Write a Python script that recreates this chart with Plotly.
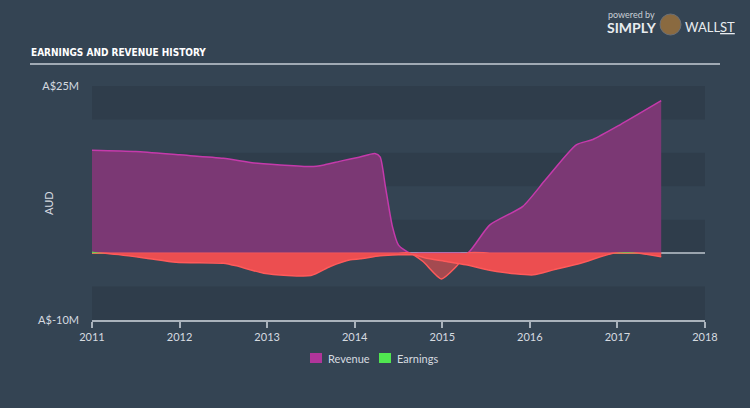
import numpy as np
import plotly.graph_objects as go

# ---- data (A$ millions) ----
rev_x = [2011.0, 2011.5, 2012.0, 2012.5, 2012.85, 2013.15, 2013.5, 2013.65, 2013.85, 2014.05,
         2014.23, 2014.29, 2014.35, 2014.43, 2014.5, 2014.63, 2014.78, 2014.99, 2015.16, 2015.29,
         2015.54, 2015.92, 2016.18, 2016.53, 2016.72, 2017.03, 2017.5]
revenue = [15.4, 15.2, 14.7, 14.2, 13.5, 13.2, 12.95, 13.2, 13.8, 14.35,
           14.9, 14.4, 10.0, 4.0, 1.2, 0.0, -1.25, -3.85, -2.0, 0.0,
           4.2, 7.0, 11.0, 16.2, 17.0, 19.2, 22.8]

earn_x = [2011.0, 2011.15, 2011.62, 2011.96, 2012.5, 2012.65, 2012.96, 2013.5, 2013.72, 2013.95,
          2014.06, 2014.29, 2014.5, 2014.67, 2014.82, 2015.05, 2015.27, 2015.62, 2016.04, 2016.27,
          2016.58, 2016.95, 2017.1, 2017.25, 2017.5]
earnings = [0.25, 0.0, -0.75, -1.35, -1.5, -1.9, -3.0, -3.35, -2.0, -1.0,
            -0.85, -0.4, -0.25, -0.25, -0.75, -1.25, -1.75, -2.75, -3.25, -2.5,
            -1.5, 0.0, 0.12, 0.0, -0.55]

x_ticks = [2011, 2012, 2013, 2014, 2015, 2016, 2017, 2018]
y_ticks = [-10, 25]
y_ticktext = ["A$-10M", "A$25M"]
bands = [(20, 25), (10, 15), (0, 5), (-10, -5)]
legend_names = ["Revenue", "Earnings"]
legend_colors = ["#b0359a", "#50e650"]

BG = "#344453"
BAND = "#2f3d4b"
TXT = "#d6dbe0"

rev = np.array(revenue)
ern = np.array(earnings)

fig = go.Figure()
spl = dict(shape="spline", smoothing=0.6)

# revenue positive part
fig.add_trace(go.Scatter(x=rev_x, y=np.maximum(rev, 0), mode="lines", fill="tozeroy",
                         fillcolor="#7b3874",
                         line=dict(color="#c53aab", width=1.5, **spl), showlegend=False, hoverinfo="skip"))
# revenue negative part
fig.add_trace(go.Scatter(x=rev_x, y=np.minimum(rev, 0), mode="lines", fill="tozeroy",
                         fillcolor="rgba(240,78,78,0.6)",
                         line=dict(color="#ff5a5a", width=1.5, **spl), showlegend=False, hoverinfo="skip"))
# earnings negative part
fig.add_trace(go.Scatter(x=earn_x, y=np.minimum(ern, 0), mode="lines", fill="tozeroy",
                         fillcolor="#ec4e50",
                         line=dict(color="#ff5a5a", width=1.5, **spl), showlegend=False, hoverinfo="skip"))
# earnings positive part
fig.add_trace(go.Scatter(x=earn_x, y=np.maximum(ern, 0), mode="lines", fill="tozeroy",
                         fillcolor="rgba(80,230,80,0.85)",
                         line=dict(color="rgba(80,230,80,0)", width=0, **spl), showlegend=False, hoverinfo="skip"))

def px_x(p):
    return (p - 92) / 613

def px_y(p):
    return (320 - p) / 234

shapes = []
for lo, hi in bands:
    shapes.append(dict(type="rect", xref="paper", yref="y", x0=0, x1=1, y0=lo, y1=hi,
                       fillcolor=BAND, line_width=0, layer="below"))
# title underline
shapes.append(dict(type="line", xref="paper", yref="paper",
                   x0=px_x(30), x1=px_x(720), y0=px_y(64), y1=px_y(64),
                   line=dict(color="#c5cdd5", width=1.5)))
# logo circle
shapes.append(dict(type="circle", xref="paper", yref="paper",
                   x0=px_x(660), x1=px_x(681), y0=px_y(35), y1=px_y(14),
                   fillcolor="#8a6a40", line=dict(color="#6b6f75", width=1)))

annotations = [
    dict(text="<b>EARNINGS AND REVENUE HISTORY</b>", xref="paper", yref="paper",
         x=px_x(29), y=px_y(52.5), xanchor="left", yanchor="middle", showarrow=False,
         font=dict(family="DejaVu Sans Condensed, DejaVu Sans, sans-serif", size=10, color="#ffffff")),
    dict(text="powered by", xref="paper", yref="paper", x=px_x(606), y=px_y(14),
         xanchor="left", yanchor="middle", showarrow=False,
         font=dict(family="Lato, sans-serif", size=9, color="#c8cfd6")),
    dict(text="<b>SIMPLY</b>", xref="paper", yref="paper", x=px_x(605), y=px_y(27),
         xanchor="left", yanchor="middle", showarrow=False,
         font=dict(family="Lato, sans-serif", size=14, color="#e8ecef")),
    dict(text="WALL<u>ST</u>", xref="paper", yref="paper", x=px_x(683), y=px_y(27),
         xanchor="left", yanchor="middle", showarrow=False,
         font=dict(family="Lato, sans-serif", size=13, color="#e8ecef")),
    dict(text="AUD", xref="paper", yref="paper", x=px_x(48), y=0.5, textangle=-90,
         xanchor="center", yanchor="middle", showarrow=False,
         font=dict(family="Lato, sans-serif", size=11, color=TXT)),
]

# custom legend
leg_sw = [310, 379]
for name, col, sx in zip(legend_names, legend_colors, leg_sw):
    shapes.append(dict(type="rect", xref="paper", yref="paper",
                       x0=px_x(sx), x1=px_x(sx + 12), y0=px_y(363), y1=px_y(353),
                       fillcolor=col, line_width=0))
    annotations.append(dict(text=name, xref="paper", yref="paper", x=px_x(sx + 16), y=px_y(358),
                            xanchor="left", yanchor="middle", showarrow=False,
                            font=dict(family="Lato, sans-serif", size=11, color=TXT)))

fig.update_layout(
    width=750, height=408,
    margin=dict(l=92, r=45, t=86, b=88),
    paper_bgcolor=BG, plot_bgcolor=BG,
    shapes=shapes, annotations=annotations,
    showlegend=False,
    xaxis=dict(range=[2011, 2018], tickvals=x_ticks, ticktext=[str(v) for v in x_ticks],
               showgrid=False, zeroline=False, showline=True, linecolor="#aab3bc", linewidth=1.5,
               ticks="outside", ticklen=6, tickcolor="#aab3bc", tickwidth=1.5,
               tickfont=dict(family="Lato, sans-serif", size=11, color=TXT)),
    yaxis=dict(range=[-10, 25], tickvals=y_ticks, ticktext=y_ticktext, showgrid=False,
               zeroline=True, zerolinecolor="#9aa4ae", zerolinewidth=2, showline=False,
               ticks="", ticklabelstandoff=12,
               tickfont=dict(family="Lato, sans-serif", size=11, color=TXT)),
)

fig.write_html("out.html")
